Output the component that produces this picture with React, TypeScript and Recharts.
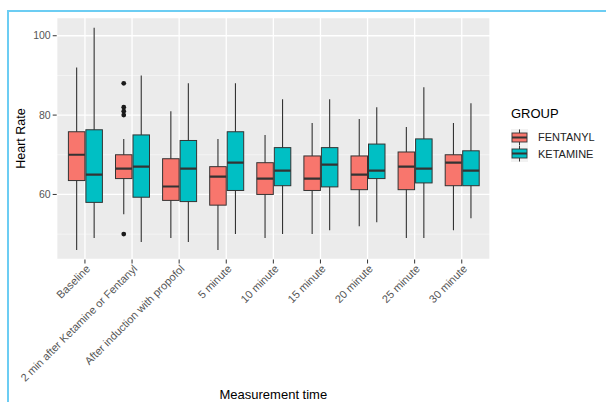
import React from 'react'
import { ComposedChart, Bar, XAxis, YAxis, CartesianGrid, Legend, Label } from 'recharts'

const categories = [
  'Baseline',
  '2 min after Ketamine or Fentanyl',
  'After induction with propofol',
  '5 minute',
  '10 minute',
  '15 minute',
  '20 minute',
  '25 minute',
  '30 minute',
]

const groups = ['FENTANYL', 'KETAMINE']
const groupFills = ['#F8766D', '#00BFC4']

// FENTANYL boxes
const fentanylMin = [46, 55, 49, 46, 49, 50, 52, 49, 51]
const fentanylQ1 = [63.5, 64, 58.5, 57.3, 60, 61, 61.2, 61.2, 62.2]
const fentanylMedian = [70, 66.5, 62, 64.5, 64, 64, 65, 67, 68]
const fentanylQ3 = [75.8, 70, 69, 67, 68, 69.7, 69.7, 70.7, 70]
const fentanylMax = [92, 74, 81, 74, 75, 78, 79, 77, 78]
const fentanylOutliers = [[], [88, 82, 81, 80, 50], [], [], [], [], [], [], []]

// KETAMINE boxes
const ketamineMin = [49, 48, 48, 50, 50, 51, 53, 49, 54]
const ketamineQ1 = [58, 59.3, 58.2, 61, 62.2, 61.9, 64, 62.9, 62.2]
const ketamineMedian = [65, 67, 66.5, 68, 66, 67.5, 66, 66.5, 66]
const ketamineQ3 = [76.3, 75, 73.6, 75.8, 71.8, 71.8, 72.7, 74, 71]
const ketamineMax = [102, 90, 88, 88, 84, 84, 82, 87, 83]
const ketamineOutliers = [[], [], [], [], [], [], [], [], []]

const yTicks = [60, 80, 100]
const yMinor = [50, 70, 90]

type Stats = { min: number; q1: number; median: number; q3: number; max: number; out: number[] }

const data = categories.map((time, i) => ({
  time,
  fentanyl: {
    min: fentanylMin[i], q1: fentanylQ1[i], median: fentanylMedian[i],
    q3: fentanylQ3[i], max: fentanylMax[i], out: fentanylOutliers[i],
  } as Stats,
  ketamine: {
    min: ketamineMin[i], q1: ketamineQ1[i], median: ketamineMedian[i],
    q3: ketamineQ3[i], max: ketamineMax[i], out: ketamineOutliers[i],
  } as Stats,
}))

const FONT = '"Liberation Sans", Arial, Helvetica, sans-serif'
const OUTLINE = '#333333'

// draws one box from the range bar (min..max) that recharts has already scaled
const makeBox = (key: 'fentanyl' | 'ketamine', fill: string) => (props: any) => {
  const { x, y, width, height, payload } = props
  const s: Stats = payload[key]
  const top = Math.min(y, y + height)
  const bottom = Math.max(y, y + height)
  const k = (bottom - top) / (s.max - s.min)
  const py = (v: number) => bottom - (v - s.min) * k
  const cx = x + width / 2
  return (
    <g>
      <line x1={cx} x2={cx} y1={py(s.max)} y2={py(s.min)} stroke={OUTLINE} strokeWidth={1.1} />
      <rect x={x} y={py(s.q3)} width={width} height={py(s.q1) - py(s.q3)} fill={fill} stroke={OUTLINE} strokeWidth={1} />
      <line x1={x} x2={x + width} y1={py(s.median)} y2={py(s.median)} stroke={OUTLINE} strokeWidth={2.2} />
      {s.out.map((v, j) => (
        <circle key={j} cx={cx} cy={py(v)} r={2.4} fill="#1a1a1a" />
      ))}
    </g>
  )
}

const XTick = ({ x, y, payload }: any) => (
  <g transform={`translate(${x + 6},${y + 4})`}>
    <text textAnchor="end" transform="rotate(-45)" fontSize={11} fill="#555" fontFamily={FONT}>
      {payload.value}
    </text>
  </g>
)

const LegendGlyph = ({ fill }: { fill: string }) => (
  <svg width={17} height={17} style={{ display: 'block' }}>
    <rect x={0} y={0} width={17} height={17} fill="#F2F2F2" />
    <line x1={8.5} x2={8.5} y1={0.5} y2={16.5} stroke={OUTLINE} strokeWidth={1} />
    <rect x={1} y={4} width={15} height={9} fill={fill} stroke={OUTLINE} strokeWidth={0.9} />
    <line x1={1} x2={16} y1={8.5} y2={8.5} stroke={OUTLINE} strokeWidth={2} />
  </svg>
)

const LegendBox = () => (
  <div style={{ fontFamily: FONT, color: '#000' }}>
    <div style={{ fontSize: 13, lineHeight: '14px', marginBottom: 8 }}>GROUP</div>
    {groups.map((g, i) => (
      <div key={g} style={{ display: 'flex', alignItems: 'center', height: 16.5 }}>
        <LegendGlyph fill={groupFills[i]} />
        <span style={{ fontSize: 11, marginLeft: 10, color: '#222' }}>{g}</span>
      </div>
    ))}
  </div>
)

export default function App() {
  return (
    <div style={{ position: 'absolute', left: 0, top: 0, width: 606, height: 402, background: '#fff', fontFamily: FONT }}>
      <div style={{ position: 'absolute', left: 7, top: 10, width: 599, height: 2, background: '#6CCDF3' }} />
      <div style={{ position: 'absolute', left: 7, top: 10, width: 2, height: 392, background: '#6CCDF3' }} />
      <div style={{ position: 'absolute', left: 0, top: 0 }}>
        <ComposedChart
          width={606}
          height={402}
          data={data}
          margin={{ top: 17.5, right: 116, left: 0, bottom: 0 }}
          barSize={16.5}
          barGap={1}
        >
          <CartesianGrid fill="#EBEBEB" stroke="#F6F6F6" strokeWidth={0.8} vertical={false} horizontalValues={yMinor} />
          <CartesianGrid fill="none" stroke="#FFFFFF" strokeWidth={1.3} />
          <XAxis
            dataKey="time"
            interval={0}
            height={142.5}
            padding={{ left: 4.7, right: 4.7 }}
            axisLine={false}
            tickSize={4}
            tickLine={{ stroke: '#333' }}
            tick={<XTick />}
          >
            <Label
              content={({ viewBox }: any) => (
                <text
                  x={viewBox.x + viewBox.width / 2}
                  y={viewBox.y + 139}
                  textAnchor="middle"
                  fontSize={13}
                  fontFamily={FONT}
                  fill="#000"
                >
                  Measurement time
                </text>
              )}
            />
          </XAxis>
          <YAxis
            type="number"
            domain={[43.6, 104.6]}
            allowDataOverflow
            ticks={yTicks}
            width={56.7}
            axisLine={false}
            tickSize={4}
            tickLine={{ stroke: '#333' }}
            tick={{ fill: '#555', fontSize: 10.5, fontFamily: FONT }}
          >
            <Label
              content={({ viewBox }: any) => (
                <text
                  transform={`translate(${viewBox.x + 21},${viewBox.y + viewBox.height / 2}) rotate(-90)`}
                  textAnchor="middle"
                  dominantBaseline="central"
                  fontSize={12.5}
                  fontFamily={FONT}
                  fill="#000"
                >
                  Heart Rate
                </text>
              )}
            />
          </YAxis>
          <Legend
            layout="horizontal"
            align="center"
            verticalAlign="middle"
            content={<LegendBox />}
            wrapperStyle={{ left: 511, top: 107, width: 95, height: 60 }}
          />
          <Bar
            name="FENTANYL"
            dataKey={(d: any) => [d.fentanyl.min, d.fentanyl.max]}
            shape={makeBox('fentanyl', groupFills[0])}
            isAnimationActive={false}
          />
          <Bar
            name="KETAMINE"
            dataKey={(d: any) => [d.ketamine.min, d.ketamine.max]}
            shape={makeBox('ketamine', groupFills[1])}
            isAnimationActive={false}
          />
        </ComposedChart>
      </div>
    </div>
  )
}
